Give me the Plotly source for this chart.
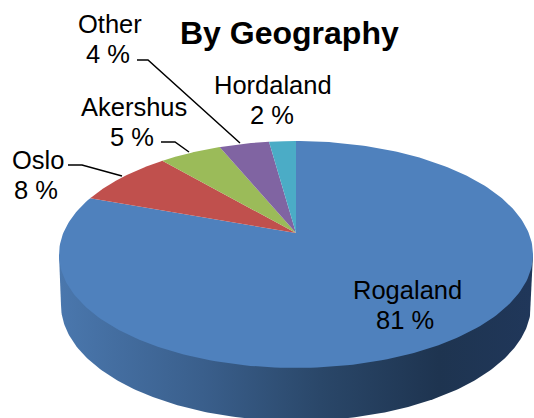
import numpy as np
import plotly.graph_objects as go

# Data
categories = ["Rogaland", "Oslo", "Akershus", "Other", "Hordaland"]
values = [80.5, 8.1, 5.1, 4.1, 2.2]
percent_labels = ["81 %", "8 %", "5 %", "4 %", "2 %"]
colors = ["#4f81bd", "#c0504d", "#9bbb59", "#8064a2", "#4bacc6"]
title = "By Geography"

# Projected geometry of the tilted disc, in picture pixels
W, H = 534, 418
CX, CY, RX, RY = 296, 254.5, 237, 113.5
APEX_Y = 233
BOT_CX, BOT_CY, BOT_RX, BOT_RY = 296, 305, 235, 116
a = (CY - APEX_Y) / RY


def project(theta):
    """Map pie angle (clockwise from top) onto the tilted ellipse, with perspective."""
    x, y = np.sin(theta), np.cos(theta)
    d = 1 + a * y
    return CX + RX * x * np.sqrt(1 - a * a) / d, CY - RY * (y + a) / d


fig = go.Figure()

# Side wall
t = np.linspace(0, np.pi, 200)
wall_x = np.concatenate([[CX + RX], BOT_CX + BOT_RX * np.cos(t), [CX - RX]])
wall_y = np.concatenate([[CY], BOT_CY + BOT_RY * np.sin(t), [CY]])
fig.add_trace(go.Scatter(
    x=wall_x, y=wall_y, mode="lines", line=dict(width=0), fill="toself",
    fillgradient=dict(
        type="horizontal", start=60, stop=533,
        colorscale=[[0, "#4a77ad"], [0.3, "#3a5f8c"], [0.55, "#2a4769"],
                    [0.8, "#1e3450"], [1, "#20375a"]],
    ),
    hoverinfo="skip", showlegend=False,
))

# Top face, clockwise from twelve o'clock
fractions = np.cumsum([0] + values) / sum(values)
for i, name in enumerate(categories):
    th = np.linspace(fractions[i], fractions[i + 1], 240) * 2 * np.pi
    ex, ey = project(th)
    fig.add_trace(go.Scatter(
        x=np.concatenate([[CX], ex, [CX]]),
        y=np.concatenate([[APEX_Y], ey, [APEX_Y]]),
        mode="lines", line=dict(width=0, color=colors[i]),
        fill="toself", fillcolor=colors[i], name=name,
        showlegend=False, hoverinfo="name",
    ))

# Data labels: (name centre x, name y, percent centre x, percent y)
label_pos = {
    "Rogaland": (407, 290, 405, 320),
    "Oslo": (38, 160, 36, 190),
    "Akershus": (134, 107, 132, 137),
    "Other": (110, 24, 108, 54),
    "Hordaland": (273, 85, 272, 115),
}
FONT = "Liberation Sans, Arial, sans-serif"
anns = []
for name, pct in zip(categories, percent_labels):
    nx, ny, px, py = label_pos[name]
    for txt, x, y in ((name, nx, ny), (pct, px, py)):
        anns.append(dict(x=x, y=y, text=txt, showarrow=False, xanchor="center",
                         yanchor="middle", font=dict(family=FONT, size=25.5, color="#000000")))
anns.append(dict(x=289, y=33, text="<b>" + title + "</b>", showarrow=False, xanchor="center",
                 yanchor="middle", font=dict(family=FONT, size=32, color="#000000")))

# Leader lines
leaders = [
    [(137, 60), (148, 60), (240, 143)],
    [(161, 142), (175, 142), (189, 152)],
    [(68, 165), (82, 165), (122, 176)],
]
for pts in leaders:
    fig.add_trace(go.Scatter(x=[p[0] for p in pts], y=[p[1] for p in pts], mode="lines",
                             line=dict(color="#000000", width=1.5),
                             hoverinfo="skip", showlegend=False))

fig.update_layout(
    width=W, height=H, margin=dict(l=0, r=0, t=0, b=0),
    paper_bgcolor="#ffffff", plot_bgcolor="#ffffff",
    xaxis=dict(range=[0, W], visible=False, fixedrange=True),
    yaxis=dict(range=[H, 0], visible=False, fixedrange=True),
    annotations=anns,
)
fig.write_html("out.html", config=dict(displayModeBar=False),
               post_script="document.body.style.margin='0';document.body.style.overflow='hidden';")
